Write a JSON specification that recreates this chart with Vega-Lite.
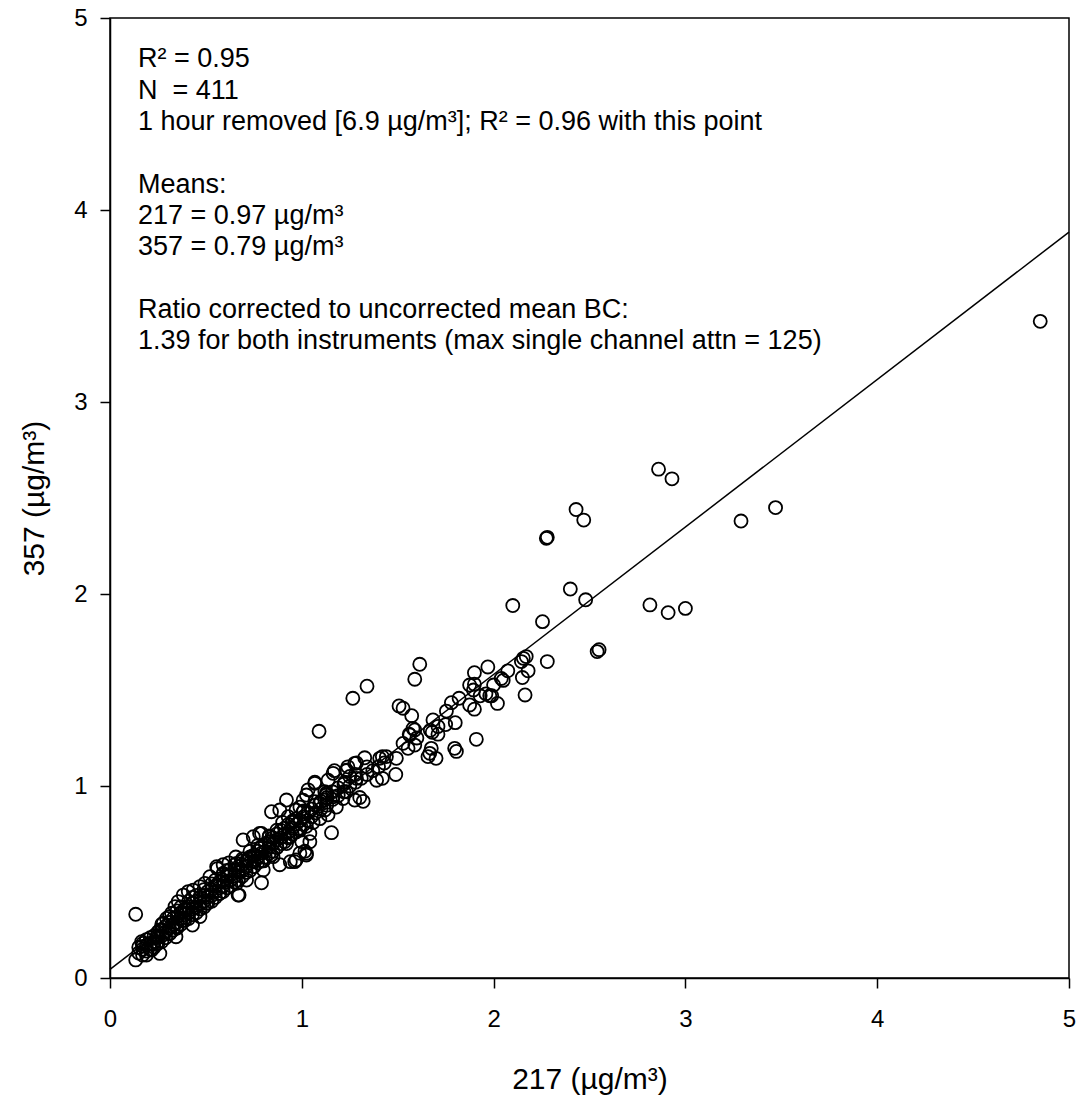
{
  "$schema": "https://vega.github.io/schema/vega-lite/v6.json",
  "width": 959,
  "height": 960,
  "autosize": {"type": "none"},
  "padding": {"left": 110, "top": 18, "right": 14, "bottom": 124},
  "background": "white",
  "config": {
    "view": {"stroke": "black", "strokeWidth": 1.5},
    "font": "Liberation Sans",
    "text": {"align": "left", "baseline": "alphabetic", "fontSize": 27, "lineHeight": 31.3, "font": "Liberation Sans", "color": "black"}
  },
  "datasets": {
    "pts": [
      {"x217":4.85,"y357":3.42},{"x217":3.47,"y357":2.45},{"x217":3.29,"y357":2.38},{"x217":2.86,"y357":2.65},{"x217":2.93,"y357":2.6},
      {"x217":2.43,"y357":2.44},{"x217":2.47,"y357":2.385},{"x217":2.275,"y357":2.29},{"x217":2.28,"y357":2.295},{"x217":2.4,"y357":2.026},
      {"x217":2.48,"y357":1.97},{"x217":2.1,"y357":1.94},{"x217":2.255,"y357":1.856},{"x217":2.815,"y357":1.943},{"x217":2.91,"y357":1.903},
      {"x217":3.0,"y357":1.925},{"x217":2.54,"y357":1.7},{"x217":2.55,"y357":1.71},{"x217":2.28,"y357":1.648},{"x217":2.145,"y357":1.648},
      {"x217":2.155,"y357":1.665},{"x217":2.17,"y357":1.674},{"x217":2.18,"y357":1.6},{"x217":2.074,"y357":1.6},{"x217":2.05,"y357":1.55},
      {"x217":2.0,"y357":1.526},{"x217":1.97,"y357":1.62},{"x217":1.9,"y357":1.59},{"x217":1.9,"y357":1.53},{"x217":1.895,"y357":1.5},
      {"x217":2.15,"y357":1.565},{"x217":2.164,"y357":1.474},{"x217":2.04,"y357":1.56},{"x217":1.99,"y357":1.47},{"x217":1.96,"y357":1.48},
      {"x217":1.93,"y357":1.47},{"x217":2.02,"y357":1.43},{"x217":1.98,"y357":1.47},{"x217":1.9,"y357":1.4},{"x217":1.91,"y357":1.243},
      {"x217":1.615,"y357":1.634},{"x217":1.589,"y357":1.556},{"x217":1.34,"y357":1.52},{"x217":1.266,"y357":1.457},{"x217":1.09,"y357":1.285},
      {"x217":1.507,"y357":1.417},{"x217":1.528,"y357":1.405},{"x217":1.573,"y357":1.366},{"x217":1.684,"y357":1.344},{"x217":1.78,"y357":1.434},
      {"x217":1.82,"y357":1.457},{"x217":1.754,"y357":1.39},{"x217":1.875,"y357":1.526},{"x217":1.875,"y357":1.422},{"x217":1.8,"y357":1.33},
      {"x217":1.75,"y357":1.32},{"x217":1.71,"y357":1.31},{"x217":1.67,"y357":1.29},{"x217":1.589,"y357":1.292},{"x217":1.563,"y357":1.266},
      {"x217":1.6,"y357":1.25},{"x217":1.71,"y357":1.27},{"x217":1.68,"y357":1.28},{"x217":1.528,"y357":1.222},{"x217":1.554,"y357":1.196},
      {"x217":1.589,"y357":1.213},{"x217":1.797,"y357":1.196},{"x217":1.806,"y357":1.18},{"x217":1.667,"y357":1.17},{"x217":1.658,"y357":1.153},
      {"x217":1.7,"y357":1.144},{"x217":1.675,"y357":1.196},{"x217":1.493,"y357":1.144},{"x217":1.441,"y357":1.153},{"x217":1.406,"y357":1.144},
      {"x217":1.42,"y357":1.153},{"x217":1.328,"y357":1.147},{"x217":1.285,"y357":1.12},{"x217":1.24,"y357":1.1},{"x217":1.17,"y357":1.08},
      {"x217":1.56,"y357":1.27},{"x217":1.58,"y357":1.3},{"x217":1.49,"y357":1.06},{"x217":1.39,"y357":1.03},{"x217":1.42,"y357":1.04},
      {"x217":1.32,"y357":0.92},{"x217":1.302,"y357":0.94},{"x217":1.232,"y357":1.08},{"x217":1.25,"y357":1.05},{"x217":1.224,"y357":1.02},
      {"x217":1.163,"y357":1.066},{"x217":1.137,"y357":1.03},{"x217":1.18,"y357":0.89},{"x217":1.128,"y357":0.953},{"x217":1.12,"y357":0.97},
      {"x217":1.068,"y357":1.02},{"x217":1.094,"y357":0.91},{"x217":1.033,"y357":0.98},{"x217":1.007,"y357":0.926},{"x217":0.99,"y357":0.89},
      {"x217":1.155,"y357":0.757},{"x217":0.963,"y357":0.606},{"x217":1.024,"y357":0.649},{"x217":1.042,"y357":0.71},{"x217":1.276,"y357":1.118},
      {"x217":1.233,"y357":1.083},{"x217":1.285,"y357":1.04},{"x217":1.068,"y357":1.014},{"x217":1.024,"y357":0.953},{"x217":1.128,"y357":0.962},
      {"x217":1.12,"y357":0.927},{"x217":1.068,"y357":0.918},{"x217":1.163,"y357":0.944},{"x217":1.233,"y357":0.97},{"x217":1.215,"y357":0.935},
      {"x217":1.276,"y357":0.927},{"x217":0.92,"y357":0.927},{"x217":0.97,"y357":0.875},{"x217":1.007,"y357":0.866},{"x217":0.842,"y357":0.866},
      {"x217":0.885,"y357":0.875},{"x217":0.929,"y357":0.84},{"x217":0.955,"y357":0.82},{"x217":1.137,"y357":0.85},{"x217":1.094,"y357":0.83},
      {"x217":1.12,"y357":0.875},{"x217":1.059,"y357":0.81},{"x217":1.024,"y357":0.79},{"x217":1.042,"y357":0.753},{"x217":0.99,"y357":0.77},
      {"x217":1.0,"y357":0.71},{"x217":1.016,"y357":0.66},{"x217":1.024,"y357":0.64},{"x217":0.9,"y357":0.81},{"x217":0.87,"y357":0.77},
      {"x217":0.83,"y357":0.736},{"x217":0.79,"y357":0.753},{"x217":0.694,"y357":0.719},{"x217":0.94,"y357":0.736},{"x217":0.92,"y357":0.7},
      {"x217":0.87,"y357":0.68},{"x217":0.84,"y357":0.64},{"x217":0.99,"y357":0.65},{"x217":0.97,"y357":0.615},{"x217":0.94,"y357":0.606},
      {"x217":0.78,"y357":0.675},{"x217":0.757,"y357":0.64},{"x217":0.72,"y357":0.62},{"x217":0.69,"y357":0.61},{"x217":0.656,"y357":0.63},
      {"x217":0.62,"y357":0.6},{"x217":0.59,"y357":0.59},{"x217":0.56,"y357":0.57},{"x217":0.8,"y357":0.61},{"x217":0.885,"y357":0.59},
      {"x217":0.673,"y357":0.432},{"x217":0.79,"y357":0.496},{"x217":0.556,"y357":0.58},{"x217":0.134,"y357":0.332},{"x217":0.134,"y357":0.094},
      {"x217":0.344,"y357":0.215},{"x217":0.43,"y357":0.276},
      {"x217":0.165,"y357":0.189},{"x217":0.17,"y357":0.165},{"x217":0.19,"y357":0.12},{"x217":0.217,"y357":0.146},{"x217":0.243,"y357":0.18},
      {"x217":0.26,"y357":0.128},{"x217":0.26,"y357":0.25},{"x217":0.278,"y357":0.285},{"x217":0.295,"y357":0.31},{"x217":0.321,"y357":0.337},
      {"x217":0.339,"y357":0.372},{"x217":0.356,"y357":0.398},{"x217":0.382,"y357":0.432},{"x217":0.408,"y357":0.45},{"x217":0.434,"y357":0.458},
      {"x217":0.469,"y357":0.476},{"x217":0.495,"y357":0.493},{"x217":0.521,"y357":0.528},{"x217":0.59,"y357":0.545},{"x217":0.625,"y357":0.563},
      {"x217":0.66,"y357":0.597},{"x217":0.747,"y357":0.736},{"x217":0.78,"y357":0.753},{"x217":0.833,"y357":0.701},{"x217":0.85,"y357":0.632},
      {"x217":0.799,"y357":0.563},{"x217":0.668,"y357":0.432},{"x217":0.66,"y357":0.493},{"x217":0.712,"y357":0.51},{"x217":0.573,"y357":0.441},
      {"x217":0.503,"y357":0.389},{"x217":0.469,"y357":0.32},{"x217":0.399,"y357":0.354},{"x217":0.382,"y357":0.302},{"x217":0.347,"y357":0.267},
      {"x217":0.313,"y357":0.233},{"x217":0.243,"y357":0.215},{"x217":0.226,"y357":0.18},
      {"x217":0.15,"y357":0.13},{"x217":0.15,"y357":0.16},{"x217":0.17,"y357":0.12},{"x217":0.17,"y357":0.15},{"x217":0.17,"y357":0.18},
      {"x217":0.19,"y357":0.14},{"x217":0.19,"y357":0.17},{"x217":0.19,"y357":0.2},{"x217":0.21,"y357":0.15},{"x217":0.21,"y357":0.18},
      {"x217":0.21,"y357":0.21},{"x217":0.23,"y357":0.16},{"x217":0.23,"y357":0.19},{"x217":0.23,"y357":0.22},{"x217":0.25,"y357":0.18},
      {"x217":0.25,"y357":0.21},{"x217":0.25,"y357":0.24},{"x217":0.27,"y357":0.19},{"x217":0.27,"y357":0.22},{"x217":0.27,"y357":0.25},
      {"x217":0.27,"y357":0.28},{"x217":0.29,"y357":0.21},{"x217":0.29,"y357":0.24},{"x217":0.29,"y357":0.27},{"x217":0.31,"y357":0.23},
      {"x217":0.31,"y357":0.26},{"x217":0.31,"y357":0.29},{"x217":0.31,"y357":0.32},{"x217":0.33,"y357":0.25},{"x217":0.33,"y357":0.28},
      {"x217":0.33,"y357":0.31},{"x217":0.35,"y357":0.26},{"x217":0.35,"y357":0.29},{"x217":0.35,"y357":0.32},{"x217":0.35,"y357":0.35},
      {"x217":0.37,"y357":0.28},{"x217":0.37,"y357":0.31},{"x217":0.37,"y357":0.34},{"x217":0.37,"y357":0.37},{"x217":0.39,"y357":0.3},
      {"x217":0.39,"y357":0.33},{"x217":0.39,"y357":0.36},{"x217":0.41,"y357":0.31},{"x217":0.41,"y357":0.34},{"x217":0.41,"y357":0.37},
      {"x217":0.41,"y357":0.4},{"x217":0.43,"y357":0.33},{"x217":0.43,"y357":0.36},{"x217":0.43,"y357":0.39},{"x217":0.43,"y357":0.42},
      {"x217":0.45,"y357":0.34},{"x217":0.45,"y357":0.37},{"x217":0.45,"y357":0.4},{"x217":0.45,"y357":0.43},{"x217":0.47,"y357":0.36},
      {"x217":0.47,"y357":0.39},{"x217":0.47,"y357":0.42},{"x217":0.49,"y357":0.37},{"x217":0.49,"y357":0.4},{"x217":0.49,"y357":0.43},
      {"x217":0.49,"y357":0.46},{"x217":0.51,"y357":0.39},{"x217":0.51,"y357":0.42},{"x217":0.51,"y357":0.45},{"x217":0.53,"y357":0.4},
      {"x217":0.53,"y357":0.43},{"x217":0.53,"y357":0.46},{"x217":0.53,"y357":0.49},{"x217":0.55,"y357":0.42},{"x217":0.55,"y357":0.45},
      {"x217":0.55,"y357":0.48},{"x217":0.55,"y357":0.51},{"x217":0.57,"y357":0.44},{"x217":0.57,"y357":0.47},{"x217":0.57,"y357":0.5},
      {"x217":0.59,"y357":0.45},{"x217":0.59,"y357":0.48},{"x217":0.59,"y357":0.51},{"x217":0.59,"y357":0.54},{"x217":0.61,"y357":0.47},
      {"x217":0.61,"y357":0.5},{"x217":0.61,"y357":0.53},{"x217":0.61,"y357":0.56},{"x217":0.63,"y357":0.48},{"x217":0.63,"y357":0.51},
      {"x217":0.63,"y357":0.54},{"x217":0.65,"y357":0.5},{"x217":0.65,"y357":0.53},{"x217":0.65,"y357":0.56},{"x217":0.65,"y357":0.59},
      {"x217":0.67,"y357":0.51},{"x217":0.67,"y357":0.55},{"x217":0.67,"y357":0.58},{"x217":0.69,"y357":0.53},{"x217":0.69,"y357":0.56},
      {"x217":0.69,"y357":0.59},{"x217":0.69,"y357":0.62},{"x217":0.71,"y357":0.55},{"x217":0.71,"y357":0.58},{"x217":0.71,"y357":0.61},
      {"x217":0.73,"y357":0.56},{"x217":0.73,"y357":0.6},{"x217":0.73,"y357":0.63},{"x217":0.73,"y357":0.66},{"x217":0.75,"y357":0.58},
      {"x217":0.75,"y357":0.61},{"x217":0.75,"y357":0.64},{"x217":0.77,"y357":0.6},{"x217":0.77,"y357":0.63},{"x217":0.77,"y357":0.66},
      {"x217":0.77,"y357":0.69},{"x217":0.79,"y357":0.61},{"x217":0.79,"y357":0.65},{"x217":0.79,"y357":0.68},{"x217":0.81,"y357":0.63},
      {"x217":0.81,"y357":0.66},{"x217":0.81,"y357":0.7},{"x217":0.83,"y357":0.65},{"x217":0.83,"y357":0.68},{"x217":0.83,"y357":0.71},
      {"x217":0.83,"y357":0.74},{"x217":0.85,"y357":0.66},{"x217":0.85,"y357":0.7},{"x217":0.85,"y357":0.73},{"x217":0.87,"y357":0.68},
      {"x217":0.87,"y357":0.72},{"x217":0.87,"y357":0.75},{"x217":0.89,"y357":0.7},{"x217":0.89,"y357":0.73},{"x217":0.89,"y357":0.77},
      {"x217":0.91,"y357":0.71},{"x217":0.91,"y357":0.75},{"x217":0.91,"y357":0.78},{"x217":0.93,"y357":0.73},{"x217":0.93,"y357":0.76},
      {"x217":0.93,"y357":0.8},{"x217":0.95,"y357":0.75},{"x217":0.95,"y357":0.78},{"x217":0.95,"y357":0.81},{"x217":0.97,"y357":0.76},
      {"x217":0.97,"y357":0.8},{"x217":0.97,"y357":0.83},{"x217":0.99,"y357":0.78},{"x217":0.99,"y357":0.82},{"x217":1.01,"y357":0.8},
      {"x217":1.01,"y357":0.84},{"x217":1.01,"y357":0.87},{"x217":1.03,"y357":0.82},{"x217":1.03,"y357":0.86},{"x217":1.05,"y357":0.84},
      {"x217":1.05,"y357":0.88},{"x217":1.07,"y357":0.86},{"x217":1.07,"y357":0.9},{"x217":1.1,"y357":0.88},{"x217":1.1,"y357":0.92},
      {"x217":1.13,"y357":0.9},{"x217":1.13,"y357":0.94},{"x217":1.16,"y357":0.93},{"x217":1.16,"y357":0.97},{"x217":1.19,"y357":0.95},
      {"x217":1.19,"y357":0.99},{"x217":1.22,"y357":0.97},{"x217":1.22,"y357":1.01},{"x217":1.25,"y357":1.0},{"x217":1.28,"y357":1.02},
      {"x217":1.28,"y357":1.06},{"x217":1.31,"y357":1.04},{"x217":1.34,"y357":1.06},{"x217":1.34,"y357":1.1},{"x217":1.37,"y357":1.08},
      {"x217":1.4,"y357":1.1},{"x217":1.43,"y357":1.12}
    ],
    "fit": [{"x217": 0, "y357": 0.045}, {"x217": 5, "y357": 3.885}],
    "note": [{"label": "annotation"}]
  },
  "layer": [
    {
      "data": {"name": "pts"},
      "mark": {"type": "point", "shape": "circle", "filled": false, "color": "black", "size": 170, "strokeWidth": 1.8, "opacity": 1},
      "encoding": {
        "x": {
          "field": "x217", "type": "quantitative",
          "scale": {"domain": [0, 5], "nice": false, "zero": false},
          "axis": {
            "title": "217 (µg/m³)", "values": [0, 1, 2, 3, 4, 5], "format": "d", "grid": false,
            "tickSize": 10, "tickWidth": 1.5, "tickColor": "black", "domainWidth": 1.5, "domainColor": "black",
            "labelFontSize": 24, "labelColor": "black", "labelPadding": 19, "labelFont": "Liberation Sans", "labelFlush": false,
            "titleFontSize": 30, "titleFontWeight": "normal", "titleColor": "black", "titlePadding": 33, "titleFont": "Liberation Sans"
          }
        },
        "y": {
          "field": "y357", "type": "quantitative",
          "scale": {"domain": [0, 5], "nice": false, "zero": false},
          "axis": {
            "title": "357 (µg/m³)", "values": [0, 1, 2, 3, 4, 5], "format": "d", "grid": false,
            "tickSize": 10, "tickWidth": 1.5, "tickColor": "black", "domainWidth": 1.5, "domainColor": "black",
            "labelFontSize": 24, "labelColor": "black", "labelPadding": 13, "labelFont": "Liberation Sans", "labelFlush": false,
            "titleFontSize": 30, "titleFontWeight": "normal", "titleColor": "black", "titlePadding": 24, "titleFont": "Liberation Sans"
          }
        }
      }
    },
    {
      "data": {"name": "fit"},
      "mark": {"type": "line", "color": "black", "strokeWidth": 1.5},
      "encoding": {
        "x": {"field": "x217", "type": "quantitative"},
        "y": {"field": "y357", "type": "quantitative"}
      }
    },
    {
      "data": {"name": "note"},
      "mark": {"type": "text", "text": ["R² = 0.95", "N\u00a0 = 411", "1 hour removed [6.9 µg/m³]; R² = 0.96 with this point"]},
      "encoding": {
        "x": {"datum": 0.146, "type": "quantitative"},
        "y": {"datum": 4.743, "type": "quantitative"}
      }
    },
    {
      "data": {"name": "note"},
      "mark": {"type": "text", "text": ["Means:", "217 = 0.97 µg/m³", "357 = 0.79 µg/m³"]},
      "encoding": {
        "x": {"datum": 0.146, "type": "quantitative"},
        "y": {"datum": 4.091, "type": "quantitative"}
      }
    },
    {
      "data": {"name": "note"},
      "mark": {"type": "text", "text": ["Ratio corrected to uncorrected mean BC:", "1.39 for both instruments (max single channel attn = 125)"]},
      "encoding": {
        "x": {"datum": 0.146, "type": "quantitative"},
        "y": {"datum": 3.439, "type": "quantitative"}
      }
    }
  ]
}
